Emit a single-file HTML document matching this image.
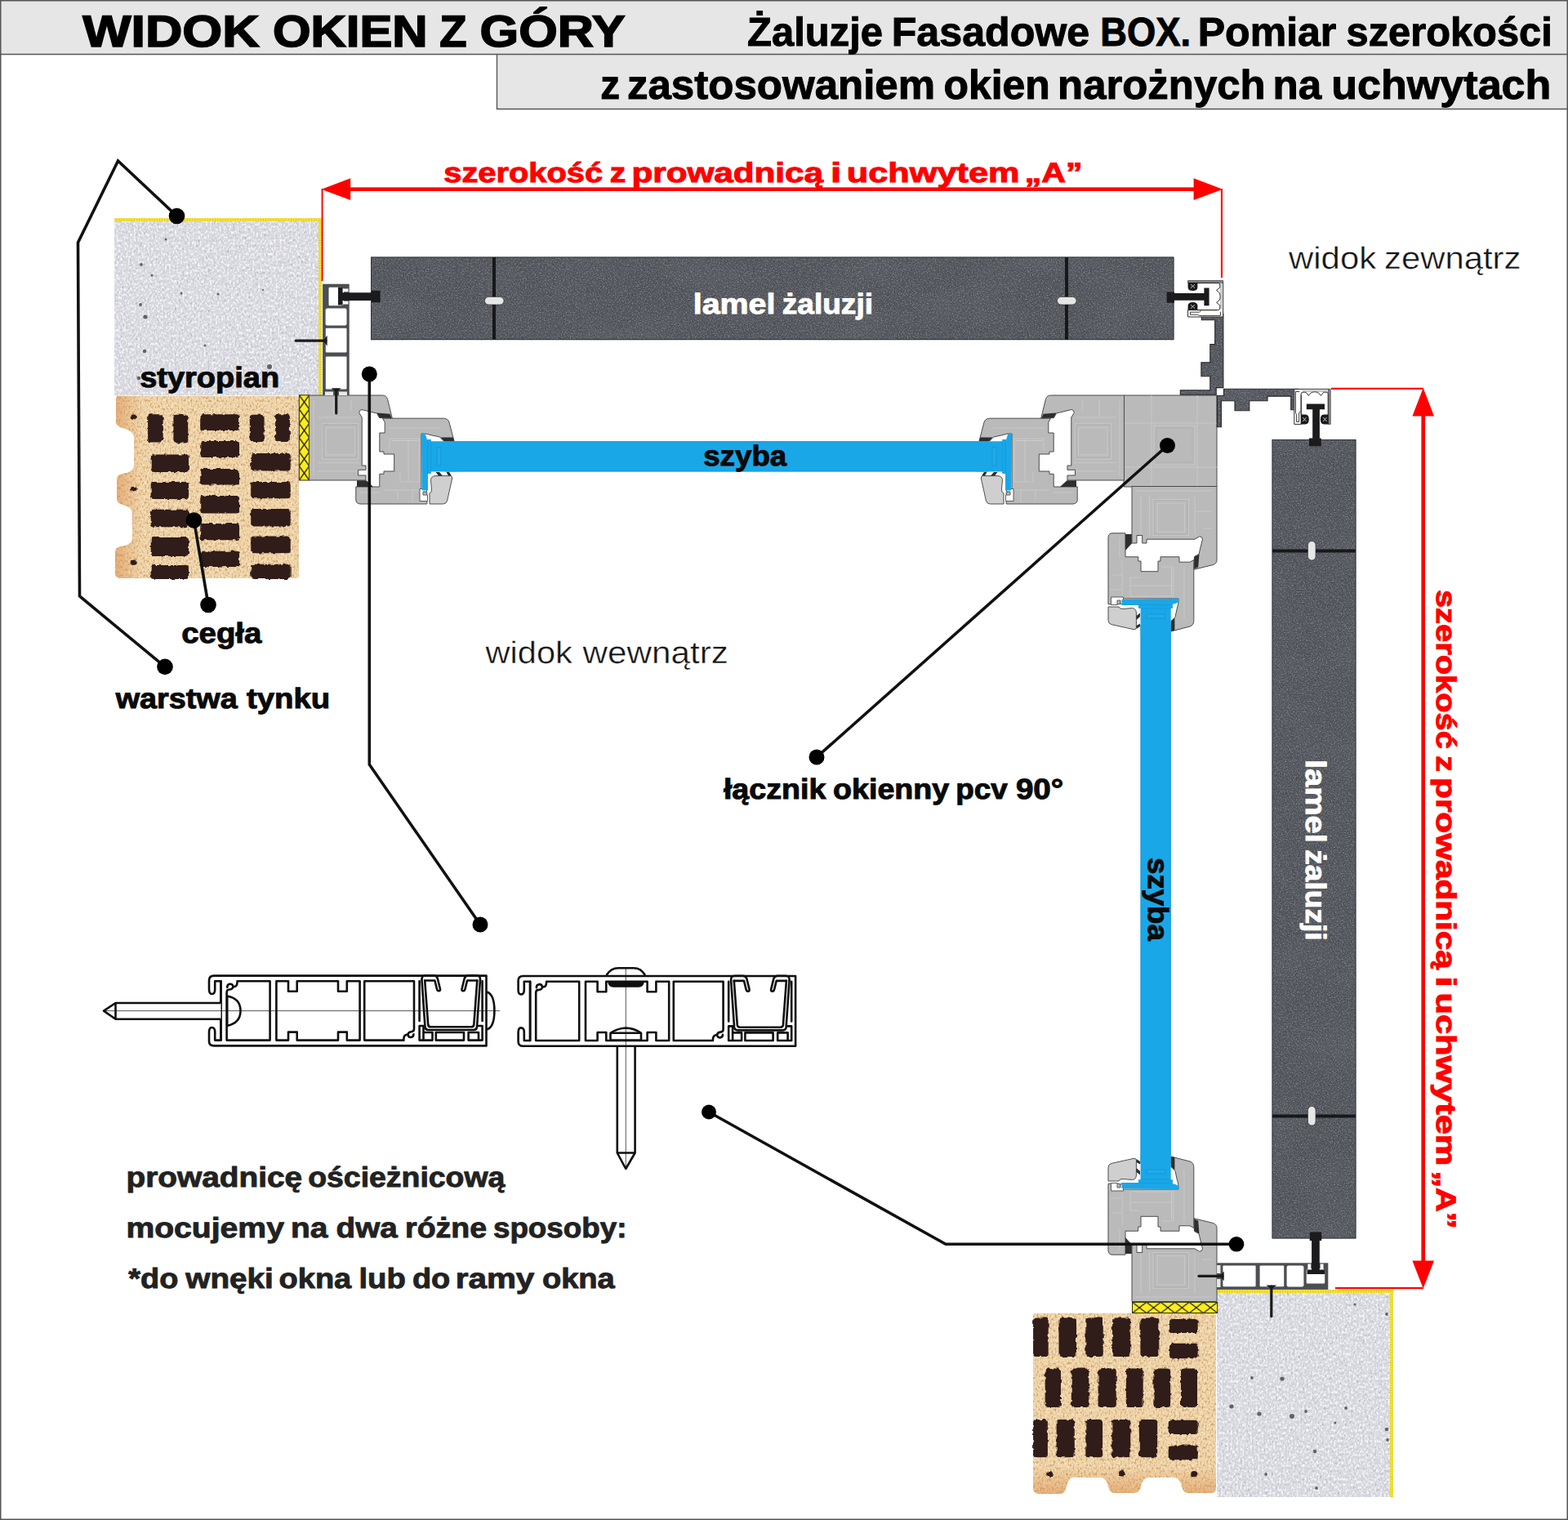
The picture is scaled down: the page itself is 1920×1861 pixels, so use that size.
<!DOCTYPE html>
<html lang="pl">
<head>
<meta charset="utf-8">
<title>Żaluzje Fasadowe BOX – pomiar szerokości</title>
<style>
html,body{margin:0;padding:0;background:#fff;}
body{width:1920px;height:1861px;overflow:hidden;}
svg{display:block;}
text{font-family:"Liberation Sans",sans-serif;text-rendering:geometricPrecision;}
.b{font-weight:700;}
</style>
</head>
<body>
<svg width="1920" height="1861" viewBox="0 0 1920 1861">
<defs>
<filter id="stone" x="0" y="0" width="100%" height="100%" color-interpolation-filters="sRGB">
  <feTurbulence type="fractalNoise" baseFrequency="0.62" numOctaves="2" seed="7" result="n"/>
  <feColorMatrix in="n" type="matrix" values="0 0 0 0 0.56  0 0 0 0 0.57  0 0 0 0 0.59  2.2 0 0 0 -1.02" result="sp"/>
  <feColorMatrix in="n" type="matrix" values="0 0 0 0 0.17  0 0 0 0 0.18  0 0 0 0 0.19  0 -2.4 0 0 0.92" result="dk"/>
  <feTurbulence type="fractalNoise" baseFrequency="0.012 0.02" numOctaves="2" seed="3" result="n2"/>
  <feColorMatrix in="n2" type="matrix" values="0 0 0 0 0.36  0 0 0 0 0.37  0 0 0 0 0.40  1.4 0 0 0 -0.6" result="cl"/>
  <feMerge><feMergeNode in="SourceGraphic"/><feMergeNode in="cl"/><feMergeNode in="dk"/><feMergeNode in="sp"/></feMerge>
  <feComposite in2="SourceGraphic" operator="in"/>
</filter>
<filter id="foam" x="0" y="0" width="100%" height="100%" color-interpolation-filters="sRGB">
  <feTurbulence type="fractalNoise" baseFrequency="0.42 0.3" numOctaves="2" seed="11" result="n"/>
  <feColorMatrix in="n" type="matrix" values="0 0 0 0 0.97  0 0 0 0 0.97  0 0 0 0 0.99  3 0 0 0 -1.3" result="a"/>
  <feColorMatrix in="n" type="matrix" values="0 0 0 0 0.66  0 0 0 0 0.66  0 0 0 0 0.71  0 -3 0 0 1.25" result="d"/>
  <feMerge><feMergeNode in="SourceGraphic"/><feMergeNode in="d"/><feMergeNode in="a"/></feMerge>
  <feComposite in2="SourceGraphic" operator="in"/>
</filter>
<filter id="clay" x="0" y="0" width="100%" height="100%" color-interpolation-filters="sRGB">
  <feTurbulence type="fractalNoise" baseFrequency="0.5 0.28" numOctaves="2" seed="5" result="n"/>
  <feColorMatrix in="n" type="matrix" values="0 0 0 0 0.78  0 0 0 0 0.56  0 0 0 0 0.32  2.6 0 0 0 -1.3" result="a"/>
  <feTurbulence type="fractalNoise" baseFrequency="0.3 0.45" numOctaves="2" seed="21" result="n2"/>
  <feColorMatrix in="n2" type="matrix" values="0 0 0 0 0.99  0 0 0 0 0.93  0 0 0 0 0.80  0 2.4 0 0 -1.1" result="b"/>
  <feMerge><feMergeNode in="SourceGraphic"/><feMergeNode in="b"/><feMergeNode in="a"/></feMerge>
  <feComposite in2="SourceGraphic" operator="in"/>
</filter>
<pattern id="hatchV" x="366.3" y="483.6" width="12.4" height="17.4" patternUnits="userSpaceOnUse">
  <rect width="12.4" height="17.4" fill="#fbed1d"/>
  <path d="M0 0L12.4 17.4M12.4 0L0 17.4" stroke="#1c1c0c" stroke-width="1.3" fill="none"/>
</pattern>
<pattern id="hatchH" x="1386.5" y="1594.4" width="17.4" height="13.2" patternUnits="userSpaceOnUse">
  <rect width="17.4" height="13.2" fill="#fbed1d"/>
  <path d="M0 0L17.4 13.2M17.4 0L0 13.2" stroke="#1c1c0c" stroke-width="1.3" fill="none"/>
</pattern>

<filter id="rough" x="-2%" y="-2%" width="104%" height="104%" color-interpolation-filters="sRGB">
  <feTurbulence type="fractalNoise" baseFrequency="0.18" numOctaves="2" seed="9" result="n"/>
  <feDisplacementMap in="SourceGraphic" in2="n" scale="4" xChannelSelector="R" yChannelSelector="G"/>
</filter>
<!--ENDB-->
<g id="endB">
  <!-- outer frame -->
  <path d="M378.5 484H468.5Q473 484 474.5 488.5L480.3 512.2L464.5 511.5L461.5 506L443 501.5Q439.5 502 439.8 505.5L443.2 511V570H448V575.3H438.5V582H448V588H378.5Z" fill="#bababa" stroke="#4a4a4a" stroke-width="1"/>
  <path d="M461.5 505.5L477.5 506.8L479.6 512L465 511.6Z" fill="#2e2e2e"/>
  <path d="M394.5 518.5H438.5V562H394.5ZM384 490V583M389 511H438M399 523.5H434.5V557H399ZM389 566.5H440M409 490V511M430 490V502M389 577H438" fill="none" stroke="#c7c7c7" stroke-width="1.1"/>
  <path d="M396 520H437V560.5H396Z" fill="none" stroke="#aeaeae" stroke-width="0.8"/>
  <!-- sash -->
  <path d="M468.5 512.2H543.5Q548.5 512.5 550 517L556 540H543.5L538.5 535L529 533Q522 530.5 516 531V600.5L522.8 603V617H441Q435.8 616.5 435.8 612V596H464.8V580.3H470V577H482.7V556H470V553H464.8V530H471.2V517Z" fill="#bababa" stroke="#4a4a4a" stroke-width="1"/>
  <path d="M437 588.2H448.5L457 596H437Z" fill="#2e2e2e"/>
  <path d="M539.5 535.6L554.8 535.6L556 540L543.5 540Z" fill="#2e2e2e"/>
  <path d="M477 537H513V590H490V578M477 537V552M500 537V590M470 600H512M487 600V612M441 603H466M505 600V615M476 524H540" fill="none" stroke="#c7c7c7" stroke-width="1.1"/>
  <path d="M479 539.5H511.5" fill="none" stroke="#cdcdcd" stroke-width="1"/>
  <!-- glazing bead -->
  <path d="M527.5 587.5Q528 583 533 582.6H551.5Q554.2 583 553.6 586L547.6 613Q546.5 617 542.5 617H526V604Q529 603 528.5 599Z" fill="#cfcfcf" stroke="#4f4f4f" stroke-width="1"/>
  <path d="M538 578L542 582.5H537L533.5 578ZM550 578L553 582.5H549L546.5 578Z" fill="#2e2e2e"/>
  <path d="M514 598.5H522.5V602H518V606H523.5V613.5H514Z" fill="#ffffff" stroke="#4f4f4f" stroke-width="0.9"/>
  <!-- glass edge -->
  <path d="M515.8 530.5Q519.5 529.5 521.5 533.5L523.5 540.3H560V577.4H524V600.5H517Z" fill="#19a7e8"/>
  <rect x="523.5" y="538" width="4.3" height="42" fill="#19a7e8"/><path d="M523.6 538V580M528 540.5V577" fill="none" stroke="#1697d6" stroke-width="0.8"/><rect x="535" y="547.5" width="5" height="22.5" fill="#1fabea" stroke="#1697d6" stroke-width="1"/>
</g>
<!--/ENDB-->
<!--ENDA-->
<g id="endA">
  <rect x="395.1" y="347.7" width="32.6" height="136.2" fill="#4d4e52"/>
  <path d="M403.5 351.8H418Q420 351.8 420.5 353.5H426.5V357.3H421V368.8H426.5V372.6H420.5Q420 374.3 418 374.3H403.5Q402.5 374.3 402.5 373V353Q402.5 351.8 403.5 351.8Z" fill="#ffffff"/>
  <rect x="398.6" y="377.6" width="25.9" height="20.8" rx="2.2" fill="#ffffff"/>
  <rect x="398.8" y="401.8" width="25.7" height="29.6" rx="1" fill="#ffffff"/>
  <rect x="398.8" y="436.4" width="25.7" height="40.2" rx="1" fill="#ffffff"/>
  <path d="M398 479.5H408V483.9H398ZM415 479.5H425V483.9H415Z" fill="#e9e9e9"/>
  <path d="M414 351.8H419.6V358.2H455V355.8H465.6V370.3H455V367.9H419.6V373.5H414Z" fill="#1b1b1d"/>
  <path d="M362.3 417.2H399" stroke="#1b1b1d" stroke-width="3.2" fill="none" stroke-linecap="round"/>
  <path d="M400.6 410.8V423.6L397 419V415.4Z" fill="#1b1b1d"/>
  <path d="M411.7 477V506" stroke="#1b1b1d" stroke-width="3.2" fill="none" stroke-linecap="round"/>
  <path d="M405.8 475.3H417.6L413.5 479H410Z" fill="#1b1b1d"/>
</g>
<!--/ENDA-->
<!--PROF-->
<g id="prof" fill="none" stroke="#0f0f0f" stroke-width="2.6" stroke-linejoin="round" stroke-linecap="round">
  <path d="M270.5 1201.3H263.2V1211.5Q263.2 1217 259.3 1217Q256 1217 256 1211V1200.5Q256 1194.6 262 1194.6H595.5V1280.4H262Q256 1280.4 256 1274.5V1264Q256 1258 259.3 1258Q263.2 1258 263.2 1263.5V1273.6H270.5Z"/>
  <path d="M270.5 1201.3V1273.6M277.6 1273.6V1215Q277.6 1211.5 281 1211.5Q285.5 1211.2 285.3 1207.5Q284.8 1204.5 281.5 1204.8Q278 1205.5 278.3 1208.8M290.5 1201.3Q290.8 1207.5 287 1208M290.5 1201.3H330.6V1273.6H277.6"/>
  <path d="M338.4 1201.3H353V1213.8H363.7V1201.3H414V1213.8H424.8V1201.3H440.6V1273.6H424.8V1263.6H414V1273.6H363.7V1263.6H353V1273.6H338.4Z"/>
  <path d="M446.2 1273.6V1201.3H507V1260Q507 1263 503.5 1263.2Q499.5 1263.6 499.6 1267Q500 1270.2 503.2 1270Q506.5 1269.5 506.4 1266.3M494.4 1273.6Q494 1267.5 497.8 1266.8M494.4 1273.6H446.2Z"/>
  <path d="M513.6 1250V1201.3M513.6 1273.6V1256H518.5V1273.6ZM518.5 1264H529.5V1273.6H518.5M533.8 1264H568V1273.6H533.8ZM573.6 1264H586V1273.6H573.6ZM586 1256H590.6V1273.6H586M590.6 1201.3V1250"/>
  <path d="M516.5 1199.5L520.5 1257.5Q521 1261 524.5 1261H580Q583.5 1261 584 1257.5L588 1199.5M520.2 1200.5L524.2 1254.5Q524.5 1257.3 527.5 1257.3H577Q580 1257.3 580.3 1254.5L584.3 1200.5"/>
  <path d="M516.5 1199.5Q516.2 1194.3 521 1194.3H531Q534.6 1194.3 535.8 1198L539 1211Q539.3 1213.3 537.3 1213.3Q535.6 1213.3 535 1211L532.4 1200.5H520.2"/>
  <path d="M588 1199.5Q588.3 1194.3 583.5 1194.3H573.5Q569.9 1194.3 568.7 1198L565.5 1211Q565.2 1213.3 567.2 1213.3Q568.9 1213.3 569.5 1211L572.1 1200.5H584.3"/>
</g>
<!--/PROF-->
<!--HOLD-->
<g id="holder">
  <path d="M1454.5 343.5H1497.8V388H1454.5V379.6H1466.5V346.2H1454.5Z" fill="#ffffff"/>
  <path d="M1454.6 343.6H1497.7V346.2H1454.6Z" fill="#8f8f8f" stroke="#2a2a2a" stroke-width="0.7"/>
  <path d="M1497.6 346V388H1454.6V379.6H1490.5" fill="none" stroke="#2a2a2a" stroke-width="1"/>
  <path d="M1466 346.6H1491.6Q1493.8 346.6 1493.8 349V352L1489.6 355.4Q1494.2 358 1494.2 363Q1494.2 368 1489.6 370.4L1493.8 373.8V377Q1493.8 379.6 1491.6 379.6H1466" fill="none" stroke="#2a2a2a" stroke-width="1"/>
  <path d="M1495.2 347V378" fill="none" stroke="#9a9a9a" stroke-width="1.2"/>
  <path d="M1457.5 382.2H1468.5L1470.5 380.6M1457.5 382.2V385.2H1466.5L1468.5 386.4H1494.5V381.6" fill="none" stroke="#2a2a2a" stroke-width="0.9"/>
  <path d="M1454.6 346H1466.4V351.5Q1466.4 356 1460.5 356Q1454.6 356 1454.6 351.5Z" fill="#1b1b1d"/>
  <path d="M1454.6 379.8H1466.4V374.5Q1466.4 370 1460.5 370Q1454.6 370 1454.6 374.5Z" fill="#1b1b1d"/>
  <path d="M1458 348.2L1463 352.6M1463 348.2L1458 352.6M1458 377.6L1463 373.2M1463 377.6L1458 373.2" fill="none" stroke="#e8e8e8" stroke-width="0.8"/>
</g>
<!--/HOLD-->

<linearGradient id="brL" x1="0" y1="0" x2="1" y2="0"><stop offset="0" stop-color="#d98a4a" stop-opacity="0.55"/><stop offset="1" stop-color="#d98a4a" stop-opacity="0"/></linearGradient>
<linearGradient id="brB" x1="0" y1="1" x2="0" y2="0"><stop offset="0" stop-color="#d98a4a" stop-opacity="0.5"/><stop offset="1" stop-color="#d98a4a" stop-opacity="0"/></linearGradient>
<clipPath id="clipBL"><path d="M144 484.7 H363 Q366 484.7 366 488 V705 Q366 708 363 708 H146 Q140 706 141 700 V676 Q141 670 148 669 Q161 667 162 660 V628 Q161 620 150 618 Q143 616 143 610 V587 Q143 581 150 580 Q163 578 164 570 V535 Q163 527 150 524 Q142 522 142 516 V489 Q142 484.7 144 484.7 Z"/></clipPath>
<clipPath id="clipBR"><path d="M1267 1608 H1485 Q1489 1608 1489 1612 V1822 Q1489 1828 1483 1828 H1455 Q1449 1828 1447 1820 Q1445 1810 1438 1809 H1406 Q1399 1810 1397 1820 Q1395 1828 1389 1828 H1365 Q1359 1828 1357 1820 Q1355 1810 1348 1809 H1314 Q1308 1810 1306 1820 Q1304 1829 1298 1829 H1272 Q1265 1828 1265 1822 V1611 Q1265 1608 1267 1608 Z"/></clipPath>

</defs>
<rect x="0" y="0" width="1920" height="1861" fill="#ffffff"/>
<g id="header">
<rect x="0" y="0" width="1920" height="67" fill="#e6e6e6"/>
<rect x="608" y="67" width="1312" height="67" fill="#e6e6e6"/>
<path d="M0 66.5H1920M608.5 67V133.5H1920" fill="none" stroke="#555555" stroke-width="1.4"/>
<text class="b" y="57" font-size="54.5" fill="#000" stroke="#000" stroke-width="1.6" xml:space="preserve"><tspan x="101.15" textLength="216.50" lengthAdjust="spacingAndGlyphs">WIDOK</tspan> <tspan x="333.90" textLength="189.72" lengthAdjust="spacingAndGlyphs">OKIEN</tspan> <tspan x="538.25" textLength="33.30" lengthAdjust="spacingAndGlyphs">Z</tspan> <tspan x="587.63" textLength="177.92" lengthAdjust="spacingAndGlyphs">GÓRY</tspan></text>
<text class="b" y="55.6" font-size="49.5" fill="#000" stroke="#000" stroke-width="1" xml:space="preserve"><tspan x="915.11" textLength="165.88" lengthAdjust="spacingAndGlyphs">Żaluzje</tspan> <tspan x="1091.76" textLength="242.40" lengthAdjust="spacingAndGlyphs">Fasadowe</tspan> <tspan x="1347.26" textLength="110.72" lengthAdjust="spacingAndGlyphs">BOX.</tspan> <tspan x="1466.77" textLength="169.54" lengthAdjust="spacingAndGlyphs">Pomiar</tspan> <tspan x="1648.51" textLength="252.24" lengthAdjust="spacingAndGlyphs">szerokości</tspan></text>
<text class="b" y="121.1" font-size="50" fill="#000" stroke="#000" stroke-width="1" xml:space="preserve"><tspan x="735.30" textLength="23.75" lengthAdjust="spacingAndGlyphs">z</tspan> <tspan x="767.96" textLength="377.16" lengthAdjust="spacingAndGlyphs">zastosowaniem</tspan> <tspan x="1155.50" textLength="130.29" lengthAdjust="spacingAndGlyphs">okien</tspan> <tspan x="1295.05" textLength="254.57" lengthAdjust="spacingAndGlyphs">narożnych</tspan> <tspan x="1558.54" textLength="59.61" lengthAdjust="spacingAndGlyphs">na</tspan> <tspan x="1630.28" textLength="269.13" lengthAdjust="spacingAndGlyphs">uchwytach</tspan></text>
</g>
<g id="walls">
<rect x="140" y="268" width="253" height="216.5" fill="#d5d6dc" filter="url(#foam)"/>
<circle cx="214" cy="272" r="2.25" fill="#4a4c55" opacity="0.85"/>
<circle cx="203" cy="293" r="1.50" fill="#4a4c55" opacity="0.85"/>
<circle cx="173" cy="324" r="1.88" fill="#4a4c55" opacity="0.85"/>
<circle cx="186" cy="337" r="1.50" fill="#4a4c55" opacity="0.85"/>
<circle cx="222" cy="359" r="1.50" fill="#4a4c55" opacity="0.85"/>
<circle cx="267" cy="360" r="1.50" fill="#4a4c55" opacity="0.85"/>
<circle cx="322" cy="355" r="1.12" fill="#4a4c55" opacity="0.85"/>
<circle cx="172" cy="373" r="1.88" fill="#4a4c55" opacity="0.85"/>
<circle cx="178" cy="388" r="2.62" fill="#4a4c55" opacity="0.85"/>
<circle cx="251" cy="423" r="1.50" fill="#4a4c55" opacity="0.85"/>
<circle cx="177" cy="430" r="2.25" fill="#4a4c55" opacity="0.85"/>
<circle cx="330" cy="449" r="3.00" fill="#4a4c55" opacity="0.85"/>
<circle cx="170" cy="463" r="2.25" fill="#4a4c55" opacity="0.85"/>
<path d="M140 269H394.5" stroke="#d8c545" stroke-width="3.6" fill="none"/><path d="M140 269H394.5" stroke="#f7e62a" stroke-width="3.6" fill="none" stroke-dasharray="2.2 0.9"/>
<path d="M392.3 267V484" stroke="#d8c545" stroke-width="3.8" fill="none"/><path d="M392.3 267V484" stroke="#f7e62a" stroke-width="3.8" fill="none" stroke-dasharray="2.2 0.9"/>
<path d="M144 484.7 H363 Q366 484.7 366 488 V705 Q366 708 363 708 H146 Q140 706 141 700 V676 Q141 670 148 669 Q161 667 162 660 V628 Q161 620 150 618 Q143 616 143 610 V587 Q143 581 150 580 Q163 578 164 570 V535 Q163 527 150 524 Q142 522 142 516 V489 Q142 484.7 144 484.7 Z" fill="#edd3a8" filter="url(#clay)"/>
<rect x="140" y="484" width="34" height="225" fill="url(#brL)" clip-path="url(#clipBL)"/>
<g filter="url(#rough)">
<rect x="181.1" y="507.3" width="18.6" height="34.3" rx="3.5" fill="#301c19"/>
<rect x="212.4" y="507.7" width="17.9" height="34.7" rx="3.5" fill="#301c19"/>
<rect x="184.7" y="556.6" width="46.3" height="21.5" rx="3.5" fill="#301c19"/>
<rect x="184.7" y="590.1" width="46.3" height="20.8" rx="3.5" fill="#301c19"/>
<rect x="184.7" y="623.7" width="46.3" height="21.5" rx="3.5" fill="#301c19"/>
<rect x="184.7" y="658.0" width="46.3" height="22.9" rx="3.5" fill="#301c19"/>
<rect x="184.7" y="692.1" width="46.3" height="16.8" rx="3.5" fill="#301c19"/>
<rect x="245.2" y="507.3" width="47.8" height="19.7" rx="3.5" fill="#301c19"/>
<rect x="245.2" y="540.1" width="47.8" height="19.8" rx="3.5" fill="#301c19"/>
<rect x="245.2" y="574.1" width="47.8" height="19.3" rx="3.5" fill="#301c19"/>
<rect x="245.2" y="606.9" width="47.8" height="21.5" rx="3.5" fill="#301c19"/>
<rect x="245.2" y="641.1" width="47.8" height="20.1" rx="3.5" fill="#301c19"/>
<rect x="245.2" y="674.7" width="47.8" height="19.3" rx="3.5" fill="#301c19"/>
<rect x="305.8" y="507.7" width="17.8" height="33.2" rx="3.5" fill="#301c19"/>
<rect x="337.1" y="507.3" width="17.8" height="33.6" rx="3.5" fill="#301c19"/>
<rect x="307.2" y="555.1" width="48.5" height="21.5" rx="3.5" fill="#301c19"/>
<rect x="307.2" y="590.1" width="48.5" height="20.1" rx="3.5" fill="#301c19"/>
<rect x="307.2" y="623.0" width="48.5" height="21.4" rx="3.5" fill="#301c19"/>
<rect x="307.2" y="656.5" width="48.5" height="20.8" rx="3.5" fill="#301c19"/>
<rect x="307.2" y="690.8" width="48.5" height="18.1" rx="3.5" fill="#301c19"/>
<ellipse cx="163.7" cy="510.8" rx="4" ry="3.3" fill="#301c19"/>
<ellipse cx="163.7" cy="599" rx="4" ry="3.3" fill="#301c19"/>
<ellipse cx="163.7" cy="688.7" rx="4" ry="3.3" fill="#301c19"/>
</g>
<rect x="366.3" y="483.8" width="12.4" height="104.2" fill="url(#hatchV)" stroke="#2a2a12" stroke-width="1"/>
<rect x="1490" y="1580" width="215" height="253" fill="#d5d6dc" filter="url(#foam)"/>
<circle cx="1659" cy="1597" r="1.50" fill="#4a4c55" opacity="0.85"/>
<circle cx="1698" cy="1609" r="1.88" fill="#4a4c55" opacity="0.85"/>
<circle cx="1533" cy="1687" r="1.88" fill="#4a4c55" opacity="0.85"/>
<circle cx="1570" cy="1688" r="2.62" fill="#4a4c55" opacity="0.85"/>
<circle cx="1508" cy="1722" r="2.62" fill="#4a4c55" opacity="0.85"/>
<circle cx="1542" cy="1731" r="2.62" fill="#4a4c55" opacity="0.85"/>
<circle cx="1582" cy="1734" r="3.00" fill="#4a4c55" opacity="0.85"/>
<circle cx="1599" cy="1728" r="1.88" fill="#4a4c55" opacity="0.85"/>
<circle cx="1648" cy="1724" r="1.88" fill="#4a4c55" opacity="0.85"/>
<circle cx="1635" cy="1742" r="1.50" fill="#4a4c55" opacity="0.85"/>
<circle cx="1698" cy="1750" r="2.25" fill="#4a4c55" opacity="0.85"/>
<circle cx="1699" cy="1763" r="1.88" fill="#4a4c55" opacity="0.85"/>
<circle cx="1610" cy="1777" r="2.25" fill="#4a4c55" opacity="0.85"/>
<circle cx="1550" cy="1805" r="1.88" fill="#4a4c55" opacity="0.85"/>
<circle cx="1612" cy="1822" r="1.88" fill="#4a4c55" opacity="0.85"/>
<path d="M1490.5 1581H1706.3" stroke="#d8c545" stroke-width="3.8" fill="none"/><path d="M1490.5 1581H1706.3" stroke="#f7e62a" stroke-width="3.8" fill="none" stroke-dasharray="2.2 0.9"/>
<path d="M1704.1 1579V1833" stroke="#d8c545" stroke-width="3.8" fill="none"/><path d="M1704.1 1579V1833" stroke="#f7e62a" stroke-width="3.8" fill="none" stroke-dasharray="2.2 0.9"/>
<path d="M1267 1608 H1485 Q1489 1608 1489 1612 V1822 Q1489 1828 1483 1828 H1455 Q1449 1828 1447 1820 Q1445 1810 1438 1809 H1406 Q1399 1810 1397 1820 Q1395 1828 1389 1828 H1365 Q1359 1828 1357 1820 Q1355 1810 1348 1809 H1314 Q1308 1810 1306 1820 Q1304 1829 1298 1829 H1272 Q1265 1828 1265 1822 V1611 Q1265 1608 1267 1608 Z" fill="#edd3a8" filter="url(#clay)"/>
<rect x="1265" y="1796" width="225" height="33" fill="url(#brB)" clip-path="url(#clipBR)"/>
<g filter="url(#rough)">
<rect x="1265.1" y="1613.4" width="18.6" height="47.7" rx="3.5" fill="#301c19"/>
<rect x="1296.5" y="1613.4" width="21.5" height="47.7" rx="3.5" fill="#301c19"/>
<rect x="1329.3" y="1613.4" width="21.5" height="47.7" rx="3.5" fill="#301c19"/>
<rect x="1362.1" y="1613.4" width="22.2" height="47.7" rx="3.5" fill="#301c19"/>
<rect x="1396.4" y="1613.4" width="22.9" height="47.7" rx="3.5" fill="#301c19"/>
<rect x="1432.1" y="1614.8" width="34.6" height="17.1" rx="3.5" fill="#301c19"/>
<rect x="1432.1" y="1644.7" width="34.6" height="18.6" rx="3.5" fill="#301c19"/>
<rect x="1279.7" y="1675.4" width="19.3" height="47.7" rx="3.5" fill="#301c19"/>
<rect x="1311.8" y="1675.4" width="21.5" height="47.7" rx="3.5" fill="#301c19"/>
<rect x="1344.6" y="1675.4" width="22.2" height="47.7" rx="3.5" fill="#301c19"/>
<rect x="1378.9" y="1675.4" width="20.8" height="47.7" rx="3.5" fill="#301c19"/>
<rect x="1412.4" y="1675.4" width="20.8" height="47.7" rx="3.5" fill="#301c19"/>
<rect x="1446.0" y="1675.4" width="20.0" height="47.7" rx="3.5" fill="#301c19"/>
<rect x="1265.1" y="1738.1" width="17.8" height="46.2" rx="3.5" fill="#301c19"/>
<rect x="1293.6" y="1738.1" width="22.2" height="46.2" rx="3.5" fill="#301c19"/>
<rect x="1329.3" y="1738.1" width="20.8" height="46.2" rx="3.5" fill="#301c19"/>
<rect x="1361.4" y="1738.1" width="22.9" height="46.2" rx="3.5" fill="#301c19"/>
<rect x="1394.9" y="1738.1" width="22.3" height="46.2" rx="3.5" fill="#301c19"/>
<rect x="1430.7" y="1738.8" width="36.0" height="17.1" rx="3.5" fill="#301c19"/>
<rect x="1430.7" y="1769.4" width="36.0" height="17.9" rx="3.5" fill="#301c19"/>
<ellipse cx="1285" cy="1804.6" rx="4" ry="3.6" fill="#301c19"/>
<ellipse cx="1374" cy="1803.9" rx="4" ry="3.6" fill="#301c19"/>
<ellipse cx="1462.2" cy="1804.6" rx="4" ry="3.6" fill="#301c19"/>
</g>
<rect x="1386.5" y="1594.4" width="104.2" height="13.2" fill="url(#hatchH)" stroke="#2a2a12" stroke-width="1"/>
</g>
<g id="slats">
<rect x="454" y="314.5" width="983.5" height="102" fill="#505359" filter="url(#stone)"/>
<rect x="454.5" y="315" width="982.5" height="100.5" fill="none" stroke="#33353a" stroke-width="1"/>
<path d="M605 315V416M1306 315V416" stroke="#17181b" stroke-width="4" fill="none"/>
<rect x="593.5" y="363.5" width="23.5" height="9.5" rx="4.75" fill="#e6e6e6" stroke="#2a2a2a" stroke-width="0.6"/>
<rect x="1294.5" y="363.5" width="23.5" height="9.5" rx="4.75" fill="#e6e6e6" stroke="#2a2a2a" stroke-width="0.6"/>
<rect x="1557.5" y="538" width="103" height="978.5" fill="#505359" filter="url(#stone)"/>
<rect x="1558" y="538.5" width="102" height="977.5" fill="none" stroke="#33353a" stroke-width="1"/>
<path d="M1558 674.5H1660M1558 1366.5H1660" stroke="#17181b" stroke-width="4" fill="none"/>
<rect x="1601.5" y="662.5" width="9.5" height="23.5" rx="4.75" fill="#e6e6e6" stroke="#2a2a2a" stroke-width="0.6"/>
<rect x="1601.5" y="1354.5" width="9.5" height="23.5" rx="4.75" fill="#e6e6e6" stroke="#2a2a2a" stroke-width="0.6"/>

</g>
<g id="windows">
<!-- glass panes -->
<rect x="545" y="540.3" width="665" height="37.1" fill="#19a7e8"/><path d="M545 540.8H1210M545 576.9H1210" stroke="#1697d6" stroke-width="1" fill="none"/>
<rect x="1396.6" y="765" width="37.1" height="660" fill="#19a7e8"/><path d="M1397.1 765V1425M1433.2 765V1425" stroke="#1697d6" stroke-width="1" fill="none"/>
<!-- corner connector -->
<g>
  <path d="M1376 484H1490V596H1376Z" fill="#bababa" stroke="#4a4a4a" stroke-width="1"/>
  <path d="M1410 484V596M1376 518H1490M1466 484V596M1376 572H1490M1413 521H1463V569H1413Z" fill="none" stroke="#c7c7c7" stroke-width="1.1"/>
  <path d="M1416 524H1460V566H1416Z" fill="none" stroke="#aeaeae" stroke-width="0.8"/>
</g>
<use href="#endB"/>
<use href="#endB" transform="translate(1755,0) scale(-1,1)"/>
<use href="#endB" transform="matrix(0,1,-1,0,1974,217)"/>
<use href="#endB" transform="matrix(0,-1,-1,0,1974,1972)"/>

</g>
<g id="rails">
<use href="#endA"/>
<use href="#endA" transform="matrix(0,-1,-1,0,1974,1974)"/>
<!-- top-right holder + brackets -->
<g>
  <!-- vertical bracket -->
  <path d="M1471.3 384.4H1497.9V474.6H1489.2V483.3H1445.3V477.7H1481.8V460.8H1470.9V443.7H1481.8V421.5H1487.7V391.8H1471.3Z" fill="#505359" filter="url(#stone)"/>
  <path d="M1471.3 384.4H1497.9V474.6H1489.2V483.3H1445.3V477.7H1481.8V460.8H1470.9V443.7H1481.8V421.5H1487.7V391.8H1471.3Z" fill="none" stroke="#222326" stroke-width="1.1"/>
  <!-- horizontal bracket -->
  <path d="M1498.5 476.2H1589.3V501.8H1580.7V485.1H1552V490.7H1529.8V502.7H1512V490.7H1495.4V522.8H1490.4V484.5H1498.5Z" fill="#505359" filter="url(#stone)"/>
  <path d="M1498.5 476.2H1589.3V501.8H1580.7V485.1H1552V490.7H1529.8V502.7H1512V490.7H1495.4V522.8H1490.4V484.5H1498.5Z" fill="none" stroke="#222326" stroke-width="1.1"/>
  <use href="#holder"/>
  <path d="M1428.7 357.4H1438V359H1474.4V352.5H1480.6V374.2H1474.4V367.7H1438V370.8H1428.7Z" fill="#1b1b1d"/>
  <use href="#holder" transform="matrix(0,-1,-1,0,1972.8,1974)"/>
  <path d="M1599.8 494.4H1622V501.2H1615.9V536.4H1617.8V546.3H1602.9V536.4H1607.2V501.2H1599.8Z" fill="#1b1b1d"/>
</g>

</g>
<g id="dims">
<g fill="#fe0000" stroke="none">
  <rect x="393.6" y="231" width="1.9" height="113"/>
  <rect x="1494.9" y="231" width="2.1" height="109"/>
  <rect x="420" y="229.4" width="1050" height="4.6"/>
  <path d="M393.6 231.7L429.2 218.3V244.9Z"/>
  <path d="M1497.2 231.7L1461.6 218.3V244.9Z"/>
  <rect x="1630" y="474.7" width="113" height="2.2"/>
  <rect x="1635" y="1576" width="108" height="2.2"/>
  <rect x="1740.4" y="500" width="4.6" height="1052"/>
  <path d="M1742.7 475L1729.4 509.5H1756Z"/>
  <path d="M1742.7 1577.5L1729.4 1543.5H1756Z"/>
</g>
<text class="b" y="223.1" font-size="34" fill="#fe0000" stroke="#fe0000" stroke-width="1" xml:space="preserve"><tspan x="543.23" textLength="194.91" lengthAdjust="spacingAndGlyphs">szerokość</tspan> <tspan x="746.65" textLength="19.49" lengthAdjust="spacingAndGlyphs">z</tspan> <tspan x="773.42" textLength="234.66" lengthAdjust="spacingAndGlyphs">prowadnicą</tspan> <tspan x="1016.90" textLength="13.23" lengthAdjust="spacingAndGlyphs">i</tspan> <tspan x="1036.85" textLength="211.66" lengthAdjust="spacingAndGlyphs">uchwytem</tspan> <tspan x="1254.78" textLength="70.86" lengthAdjust="spacingAndGlyphs">„A”</tspan></text>
<text class="b" transform="translate(1758.7,721.93) rotate(90)" y="0" font-size="34" fill="#fe0000" stroke="#fe0000" stroke-width="1" xml:space="preserve"><tspan x="0.00" textLength="194.91" lengthAdjust="spacingAndGlyphs">szerokość</tspan> <tspan x="203.43" textLength="19.49" lengthAdjust="spacingAndGlyphs">z</tspan> <tspan x="230.19" textLength="234.66" lengthAdjust="spacingAndGlyphs">prowadnicą</tspan> <tspan x="473.67" textLength="13.23" lengthAdjust="spacingAndGlyphs">i</tspan> <tspan x="493.63" textLength="211.66" lengthAdjust="spacingAndGlyphs">uchwytem</tspan> <tspan x="711.55" textLength="70.86" lengthAdjust="spacingAndGlyphs">„A”</tspan></text>
</g>
<g id="profiles">
<use href="#prof"/>
<use href="#prof" transform="translate(378.6,0.4)"/>
<g fill="none" stroke="#0f0f0f" stroke-width="2.6" stroke-linejoin="round">
  <!-- horizontal screw, profile 1 -->
  <path d="M270.5 1228H141.5L127 1237.6L141.5 1247.8H270.5M141.5 1228V1247.8" fill="#ffffff"/>
  <path d="M278.2 1219.5Q294.5 1222.5 294.5 1237.6Q294.5 1252.6 278.2 1256V1219.5Z" fill="#ffffff"/>
  <path d="M596.3 1214.5Q605.4 1217.5 605.4 1237.6Q605.4 1257.5 596.3 1260.5" />
  <!-- vertical screw, profile 2 -->
  <path d="M755.8 1282V1411.5L766.3 1431L777.6 1411.5V1282M755.8 1411.5H777.6" fill="#ffffff"/>
  <path d="M742.5 1194Q748 1185.2 757 1185.2H776Q785 1185.2 790 1194"/>
  <path d="M747.5 1264.8Q766.3 1252.5 785 1264.8V1273.5H747.5Z" fill="#ffffff"/>
  <path d="M747.5 1264.8H785"/>
</g>
<path d="M744 1201.8H789Q788 1208.8 782 1208.8H751Q745 1208.8 744 1201.8Z" fill="#0f0f0f"/>
<path d="M126 1237.6H612M766.3 1185V1432" fill="none" stroke="#0f0f0f" stroke-width="0.7"/>

</g>
<g id="leaders">
<g fill="none" stroke="#111111" stroke-width="3.6" stroke-linejoin="miter" stroke-linecap="butt">
  <path d="M216.5 264.5L144.5 197L95.5 297L97.5 730L202 816.4"/>
  <path d="M237.5 637L255 740.5"/>
  <path d="M452.3 458V936L588 1132"/>
  <path d="M1429.5 545.5L1000 927"/>
  <path d="M868 1361.5L1158 1523.3H1514"/>
</g>
<g fill="#000000">
  <circle cx="216.5" cy="264.5" r="9.8"/>
  <circle cx="202" cy="816.4" r="9.8"/>
  <circle cx="237.5" cy="637" r="9.8"/>
  <circle cx="255" cy="740.5" r="9.8"/>
  <circle cx="452.3" cy="458" r="9.5"/>
  <circle cx="588" cy="1132" r="9.5"/>
  <circle cx="1429.5" cy="545.5" r="9.5"/>
  <circle cx="1000" cy="927" r="9.5"/>
  <circle cx="868" cy="1361.5" r="9"/>
  <circle cx="1514" cy="1523.3" r="9.3"/>
</g>

</g>
<g id="labels">

<text class="b" y="384.4" font-size="35" fill="#ffffff" stroke="#ffffff" stroke-width="0.9" xml:space="preserve"><tspan x="848.75" textLength="100.69" lengthAdjust="spacingAndGlyphs">lamel</tspan> <tspan x="957.69" textLength="111.36" lengthAdjust="spacingAndGlyphs">żaluzji</tspan></text>
<text class="b" transform="translate(1599.2,930.03) rotate(90)" y="0" font-size="35" fill="#ffffff" stroke="#ffffff" stroke-width="0.9" xml:space="preserve"><tspan x="0.00" textLength="101.78" lengthAdjust="spacingAndGlyphs">lamel</tspan> <tspan x="110.21" textLength="111.42" lengthAdjust="spacingAndGlyphs">żaluzji</tspan></text>
<text class="b" y="570.25" font-size="35" fill="#0a0a0a" stroke="#0a0a0a" stroke-width="1" xml:space="preserve"><tspan x="861.20" textLength="102.05" lengthAdjust="spacingAndGlyphs">szyba</tspan></text>
<text class="b" transform="translate(1406,1050.05) rotate(90)" y="0" font-size="35" fill="#0a0a0a" stroke="#0a0a0a" stroke-width="1" xml:space="preserve"><tspan x="0.00" textLength="101.69" lengthAdjust="spacingAndGlyphs">szyba</tspan></text>
<text class="b" y="474.4" font-size="35" fill="#0a0a0a" stroke="#0a0a0a" stroke-width="1" xml:space="preserve"><tspan x="171.22" textLength="170.86" lengthAdjust="spacingAndGlyphs">styropian</tspan></text>
<text class="b" y="787.2" font-size="35" fill="#0a0a0a" stroke="#0a0a0a" stroke-width="1" xml:space="preserve"><tspan x="222.30" textLength="98.05" lengthAdjust="spacingAndGlyphs">cegła</tspan></text>
<text class="b" y="866.9" font-size="35" fill="#0a0a0a" stroke="#0a0a0a" stroke-width="1" xml:space="preserve"><tspan x="141.68" textLength="149.08" lengthAdjust="spacingAndGlyphs">warstwa</tspan> <tspan x="301.90" textLength="102.29" lengthAdjust="spacingAndGlyphs">tynku</tspan></text>
<text y="811.7" font-size="38.3" fill="#151515" stroke="#ffffff" stroke-width="0.4" paint-order="fill stroke" xml:space="preserve"><tspan x="594.48" textLength="106.45" lengthAdjust="spacingAndGlyphs">widok</tspan> <tspan x="713.58" textLength="178.29" lengthAdjust="spacingAndGlyphs">wewnątrz</tspan></text>
<text y="329.2" font-size="38.3" fill="#151515" stroke="#ffffff" stroke-width="0.4" paint-order="fill stroke" xml:space="preserve"><tspan x="1578.08" textLength="107.05" lengthAdjust="spacingAndGlyphs">widok</tspan> <tspan x="1695.10" textLength="167.28" lengthAdjust="spacingAndGlyphs">zewnątrz</tspan></text>
<text class="b" y="978.4" font-size="35" fill="#0a0a0a" stroke="#0a0a0a" stroke-width="1" xml:space="preserve"><tspan x="885.90" textLength="125.61" lengthAdjust="spacingAndGlyphs">łącznik</tspan> <tspan x="1020.13" textLength="141.96" lengthAdjust="spacingAndGlyphs">okienny</tspan> <tspan x="1170.19" textLength="63.48" lengthAdjust="spacingAndGlyphs">pcv</tspan> <tspan x="1243.90" textLength="58.34" lengthAdjust="spacingAndGlyphs">90°</tspan></text>
<text class="b" y="1453.3" font-size="34.5" fill="#222222" stroke="#222222" stroke-width="0.9" xml:space="preserve"><tspan x="154.45" textLength="215.66" lengthAdjust="spacingAndGlyphs">prowadnicę</tspan> <tspan x="377.22" textLength="241.16" lengthAdjust="spacingAndGlyphs">ościeżnicową</tspan></text>
<text class="b" y="1515" font-size="34.5" fill="#222222" stroke="#222222" stroke-width="0.9" xml:space="preserve"><tspan x="154.43" textLength="193.48" lengthAdjust="spacingAndGlyphs">mocujemy</tspan> <tspan x="356.04" textLength="45.43" lengthAdjust="spacingAndGlyphs">na</tspan> <tspan x="411.58" textLength="75.12" lengthAdjust="spacingAndGlyphs">dwa</tspan> <tspan x="496.13" textLength="99.98" lengthAdjust="spacingAndGlyphs">różne</tspan> <tspan x="603.93" textLength="163.58" lengthAdjust="spacingAndGlyphs">sposoby:</tspan></text>
<text class="b" y="1576.7" font-size="34.5" fill="#222222" stroke="#222222" stroke-width="0.9" xml:space="preserve"><tspan x="157.30" textLength="61.03" lengthAdjust="spacingAndGlyphs">*do</tspan> <tspan x="227.30" textLength="107.50" lengthAdjust="spacingAndGlyphs">wnęki</tspan> <tspan x="341.60" textLength="88.58" lengthAdjust="spacingAndGlyphs">okna</tspan> <tspan x="439.48" textLength="57.33" lengthAdjust="spacingAndGlyphs">lub</tspan> <tspan x="504.90" textLength="46.37" lengthAdjust="spacingAndGlyphs">do</tspan> <tspan x="557.65" textLength="96.74" lengthAdjust="spacingAndGlyphs">ramy</tspan> <tspan x="663.90" textLength="88.89" lengthAdjust="spacingAndGlyphs">okna</tspan></text>
</g>
<g id="frame">
<rect x="0.75" y="0.75" width="1918.5" height="1859.5" fill="none" stroke="#555555" stroke-width="1.5"/>

</g>
</svg>
</body>
</html>
